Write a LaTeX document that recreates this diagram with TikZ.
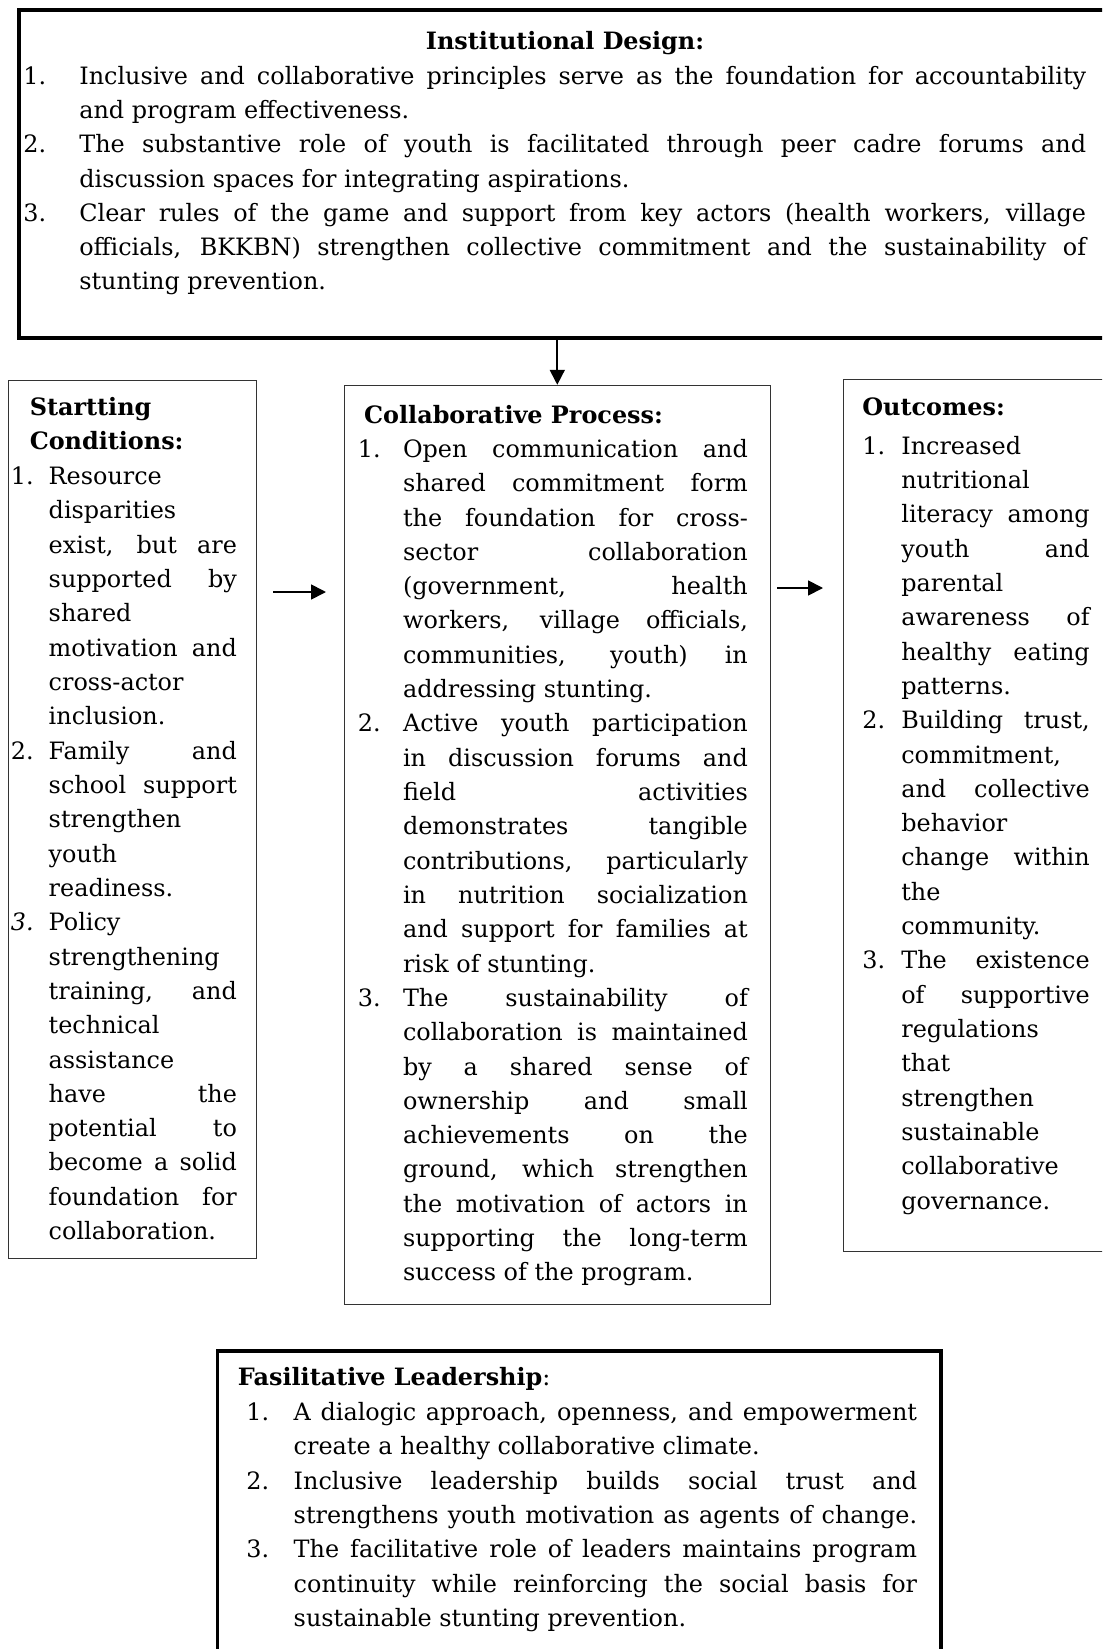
\documentclass[tikz,border=0pt]{standalone}
\usepackage{fontspec}
\setmainfont{DejaVu Serif}
\usetikzlibrary{arrows.meta}

\newlength{\numw}
\newlength{\colw}
\newcommand{\boxfont}{\fontsize{13.6pt}{19.53pt}\selectfont}
\newcommand{\inum}[2]{\strut\makebox[\numw][l]{#1}\makebox[\colw][s]{#2}}
\newcommand{\inumr}[2]{\strut\makebox[\numw][l]{#1}#2}
\newcommand{\ljust}[1]{\strut\hspace*{\numw}\makebox[\colw][s]{#1}}
\newcommand{\lrag}[1]{\strut\hspace*{\numw}#1}

\begin{document}
\begin{tikzpicture}[x=0.02cm,y=-0.02cm,
  heavybox/.style={draw=black,line width=2.2pt,anchor=north west,inner sep=0pt},
  lightbox/.style={draw=black!80,line width=0.6pt,anchor=north west,inner sep=0pt},
  headtext/.style={font=\boxfont\bfseries,align=left,anchor=north west,inner sep=0pt},
  listtext/.style 2 args={font=\boxfont,align=left,anchor=north west,inner sep=0pt,
    /utils/exec={\global\numw=#1\relax\global\colw=#2\relax}},
  arr/.style={-{Triangle[length=0.3cm,width=0.3cm]},line width=1pt}]

\path[use as bounding box,fill=white] (0,0) rectangle (1102,1649);
\clip (0,0) rectangle (1102,1649);

% frames
\node[heavybox,minimum width=21.86cm,minimum height=6.56cm] (design) at (16.8,8.4) {};
\node[lightbox,minimum width=4.96cm,minimum height=17.58cm] (start) at (8.4,379.6) {};
\node[lightbox,minimum width=8.52cm,minimum height=18.38cm] (process) at (343.8,384.8) {};
\node[lightbox,minimum width=5.33cm,minimum height=17.46cm] (outcome) at (843.3,378.5) {};
\node[heavybox,minimum width=14.47cm,minimum height=6.22cm] (leader) at (215.6,1349) {};

% institutional design
\node[headtext,anchor=north] (design-head) at (565,24.9) {\strut Institutional Design:};
\node[listtext={1.12cm}{20.14cm}] (design-list) at (23,59.7) {
  \inum{1.}{Inclusive and collaborative principles serve as the foundation for accountability}\\
  \lrag{and program effectiveness.}\\
  \inum{2.}{The substantive role of youth is facilitated through peer cadre forums and}\\
  \lrag{discussion spaces for integrating aspirations.}\\
  \inum{3.}{Clear rules of the game and support from key actors (health workers, village}\\
  \ljust{officials, BKKBN) strengthen collective commitment and the sustainability of}\\
  \lrag{stunting prevention.}};

% starting conditions
\node[headtext] (start-head) at (29.4,391) {\strut Startting\\\strut Conditions:};
\node[listtext={0.758cm}{3.764cm}] (start-list) at (10.5,460.3) {
  \inumr{1.}{Resource}\\
  \lrag{disparities}\\
  \ljust{exist, but are}\\
  \ljust{supported by}\\
  \lrag{shared}\\
  \ljust{motivation and}\\
  \lrag{cross-actor}\\
  \lrag{inclusion.}\\
  \inum{2.}{Family and}\\
  \ljust{school support}\\
  \lrag{strengthen}\\
  \lrag{youth}\\
  \lrag{readiness.}\\
  \inumr{\textit{3.}}{Policy}\\
  \lrag{strengthening}\\
  \ljust{training, and}\\
  \lrag{technical}\\
  \lrag{assistance}\\
  \ljust{have the}\\
  \ljust{potential to}\\
  \ljust{become a solid}\\
  \ljust{foundation for}\\
  \lrag{collaboration.}};

% collaborative process
\node[headtext] (process-head) at (363.8,399.3) {\strut Collaborative Process:};
\node[listtext={0.904cm}{6.898cm}] (process-list) at (357.5,433) {
  \inum{1.}{Open communication and}\\
  \ljust{shared commitment form}\\
  \ljust{the foundation for cross-}\\
  \ljust{sector collaboration}\\
  \ljust{(government, health}\\
  \ljust{workers, village officials,}\\
  \ljust{communities, youth) in}\\
  \lrag{addressing stunting.}\\
  \inum{2.}{Active youth participation}\\
  \ljust{in discussion forums and}\\
  \ljust{field activities}\\
  \ljust{demonstrates tangible}\\
  \ljust{contributions, particularly}\\
  \ljust{in nutrition socialization}\\
  \ljust{and support for families at}\\
  \lrag{risk of stunting.}\\
  \inum{3.}{The sustainability of}\\
  \ljust{collaboration is maintained}\\
  \ljust{by a shared sense of}\\
  \ljust{ownership and small}\\
  \ljust{achievements on the}\\
  \ljust{ground, which strengthen}\\
  \ljust{the motivation of actors in}\\
  \ljust{supporting the long-term}\\
  \lrag{success of the program.}};

% outcomes
\node[headtext] (outcome-head) at (862,391) {\strut Outcomes:};
\node[listtext={0.78cm}{3.768cm}] (outcome-list) at (862,429.8) {
  \inumr{1.}{Increased}\\
  \lrag{nutritional}\\
  \ljust{literacy among}\\
  \ljust{youth and}\\
  \lrag{parental}\\
  \ljust{awareness of}\\
  \ljust{healthy eating}\\
  \lrag{patterns.}\\
  \inum{2.}{Building trust,}\\
  \lrag{commitment,}\\
  \ljust{and collective}\\
  \lrag{behavior}\\
  \ljust{change within}\\
  \lrag{the}\\
  \lrag{community.}\\
  \inum{3.}{The existence}\\
  \ljust{of supportive}\\
  \lrag{regulations}\\
  \lrag{that}\\
  \lrag{strengthen}\\
  \lrag{sustainable}\\
  \lrag{collaborative}\\
  \lrag{governance.}};

% facilitative leadership
\node[headtext] (leader-head) at (237.6,1361.4) {\strut Fasilitative Leadership\mdseries:};
\node[listtext={0.948cm}{12.47cm}] (leader-list) at (246,1396.1) {
  \inum{1.}{A dialogic approach, openness, and empowerment}\\
  \lrag{create a healthy collaborative climate.}\\
  \inum{2.}{Inclusive leadership builds social trust and}\\
  \ljust{strengthens youth motivation as agents of change.}\\
  \inum{3.}{The facilitative role of leaders maintains program}\\
  \ljust{continuity while reinforcing the social basis for}\\
  \lrag{sustainable stunting prevention.}};

% connectors
\coordinate (start-out) at (273,592);
\coordinate (process-in) at (326,592);
\coordinate (process-out) at (777,588);
\coordinate (outcome-in) at (823,588);
\draw[arr] (design.south -| process.north) -- (process.north);
\draw[arr] (start-out) -- (process-in);
\draw[arr] (process-out) -- (outcome-in);
\end{tikzpicture}
\end{document}
